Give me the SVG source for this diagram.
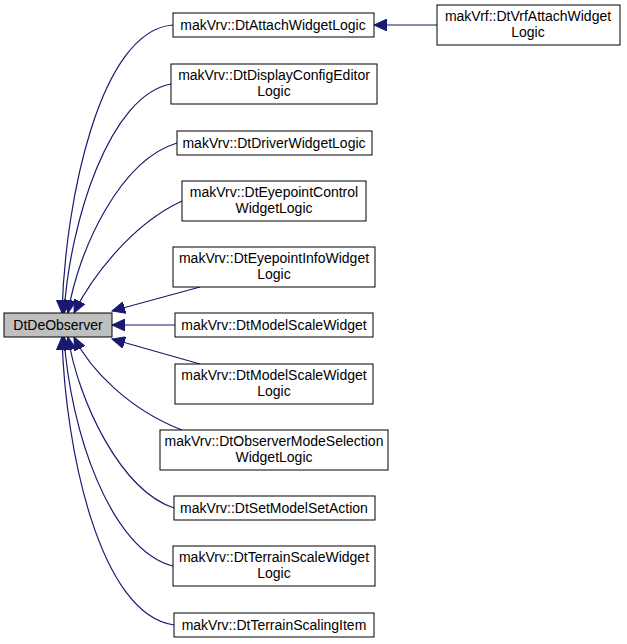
<svg xmlns="http://www.w3.org/2000/svg" width="627" height="644" viewBox="0 0 627 644">
<style>
.n rect{fill:#fff;stroke:#000;stroke-width:1}
text{font-family:"Liberation Sans",Arial,sans-serif;font-size:14px;text-anchor:middle;fill:#000}
#edges path{fill:none;stroke:#191970;stroke-width:1.2;marker-end:url(#a)}
</style>
<defs><marker id="a" markerWidth="14" markerHeight="12" refX="13" refY="6" orient="auto" markerUnits="userSpaceOnUse"><path d="M0,0 L13,6 L0,12 Z" fill="#191970" stroke="#191970"/></marker></defs>
<rect width="627" height="644" fill="#fff"/>
<g id="edges">
<path d="M173,25 C100,30 65,200 62,313"/>
<path d="M171,84 C110,95 70,220 64,313"/>
<path d="M177,143 C120,160 78,250 68,313"/>
<path d="M182,201 C130,225 90,280 74,313"/>
<path d="M200,287 L112,311"/>
<path d="M175,325 L112,325"/>
<path d="M200,364 L112,339"/>
<path d="M182,430 C130,410 90,370 74,337"/>
<path d="M174,508 C120,490 78,400 68,337"/>
<path d="M173,566 C110,550 70,430 64,337"/>
<path d="M174,625 C100,615 65,450 62,337"/>
<path d="M437,25 L374,25"/>
</g>
<g id="DtDeObserver"><rect x="4" y="313" width="108" height="24" fill="#bfbfbf" stroke="#000"/><text x="58" y="330">DtDeObserver</text></g>
<g id="n1" class="n"><rect x="173" y="13" width="201" height="24"/><text x="273" y="30">makVrv::DtAttachWidgetLogic</text></g>
<g id="n2" class="n"><rect x="437" y="5" width="183" height="40"/><text x="528" y="21">makVrf::DtVrfAttachWidget</text><text x="528" y="37">Logic</text></g>
<g id="n3" class="n"><rect x="171" y="64" width="206" height="40"/><text x="274" y="80">makVrv::DtDisplayConfigEditor</text><text x="274" y="96">Logic</text></g>
<g id="n4" class="n"><rect x="177" y="131" width="195" height="24"/><text x="274" y="148">makVrv::DtDriverWidgetLogic</text></g>
<g id="n5" class="n"><rect x="182" y="181" width="184" height="40"/><text x="274" y="197">makVrv::DtEyepointControl</text><text x="274" y="213">WidgetLogic</text></g>
<g id="n6" class="n"><rect x="173" y="247" width="202" height="40"/><text x="274" y="263">makVrv::DtEyepointInfoWidget</text><text x="274" y="279">Logic</text></g>
<g id="n7" class="n"><rect x="175" y="313" width="198" height="24"/><text x="274" y="330">makVrv::DtModelScaleWidget</text></g>
<g id="n8" class="n"><rect x="175" y="364" width="198" height="40"/><text x="274" y="380">makVrv::DtModelScaleWidget</text><text x="274" y="396">Logic</text></g>
<g id="n9" class="n"><rect x="160" y="430" width="228" height="40"/><text x="274" y="446">makVrv::DtObserverModeSelection</text><text x="274" y="462">WidgetLogic</text></g>
<g id="n10" class="n"><rect x="174" y="496" width="201" height="24"/><text x="274" y="513">makVrv::DtSetModelSetAction</text></g>
<g id="n11" class="n"><rect x="173" y="546" width="202" height="40"/><text x="274" y="562">makVrv::DtTerrainScaleWidget</text><text x="274" y="578">Logic</text></g>
<g id="n12" class="n"><rect x="174" y="613" width="200" height="24"/><text x="274" y="630">makVrv::DtTerrainScalingItem</text></g>
</svg>
